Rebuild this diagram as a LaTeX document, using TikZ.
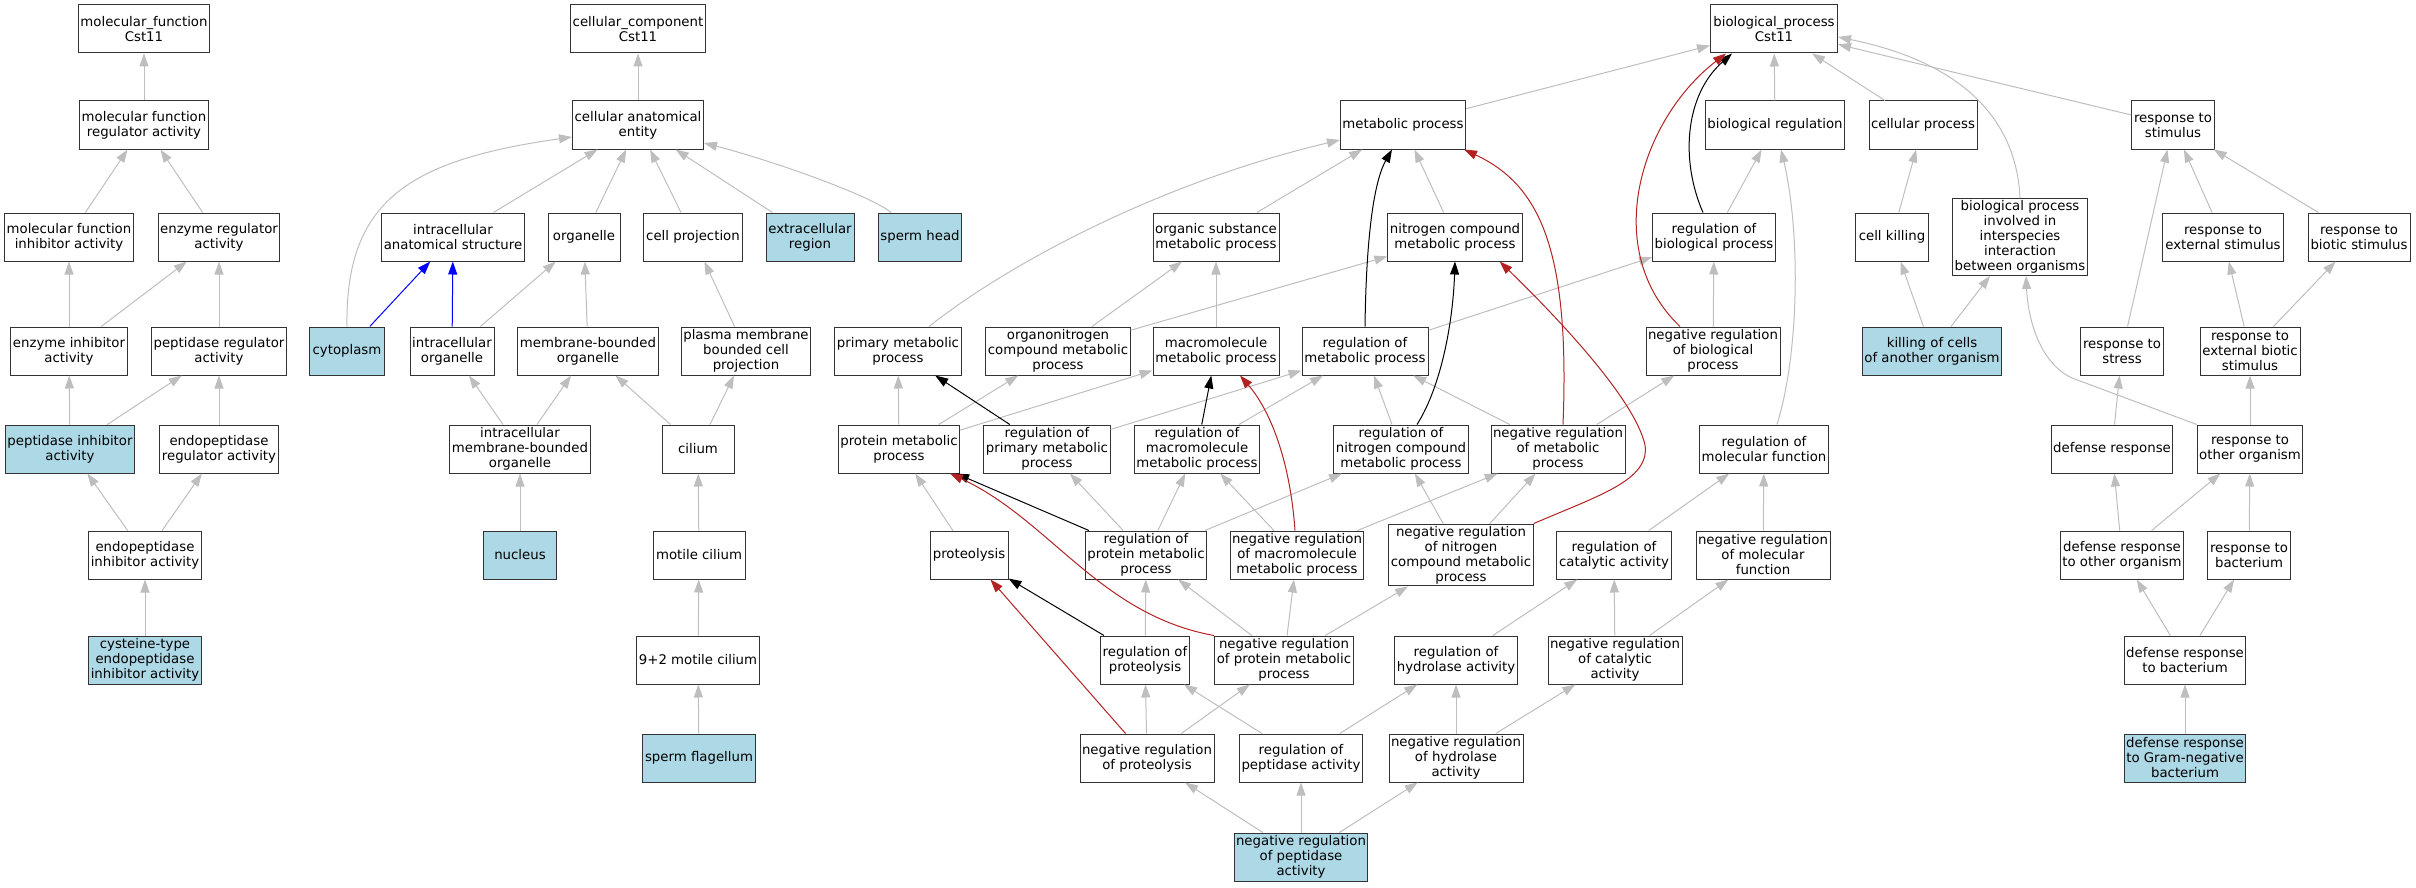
\documentclass[tikz,border=0pt]{standalone}
\usepackage{fontspec}
\setmainfont{DejaVu Sans}
\usetikzlibrary{arrows.meta}
\definecolor{hitblue}{HTML}{ADD8E6}
\definecolor{isagray}{HTML}{BEBEBE}
\definecolor{negred}{HTML}{B22222}
\tikzset{
  term/.style={draw=black!80, line width=1pt, fill=white, align=center, inner xsep=2pt, inner ysep=2pt, minimum height=48pt, font=\fontsize{13.3}{15}\selectfont},
  isa/.style={draw=isagray, line width=1pt, -{Triangle[length=13pt,width=9pt]}},
  regarrow/.style={isa, draw=black},
  negarrow/.style={isa, draw=negred},
  partof/.style={isa, draw=blue}
}
\newcommand{\goterm}[5]{\node[term, minimum width=#4pt] (#1) at (#2,#3) {#5};}
\newcommand{\gohit}[5]{\node[term, fill=hitblue, minimum width=#4pt] (#1) at (#2,#3) {#5};}

\begin{document}
\begin{tikzpicture}[x=1pt,y=-1pt]
        \useasboundingbox (0,0) rectangle (2416,888);
        %molecular function
        \goterm{mf}{144}{29}{131}{molecular\_function\\Cst11}
        \goterm{mfreg}{144}{125}{129}{molecular function\\regulator activity}
        \goterm{mfinh}{69}{237}{129}{molecular function\\inhibitor activity}
        \goterm{enzreg}{219}{237}{121}{enzyme regulator\\activity}
        \goterm{enzinh}{69}{351}{116}{enzyme inhibitor\\activity}
        \goterm{pepreg}{219}{351}{134}{peptidase regulator\\activity}
        \gohit{pepinh}{70}{449}{129}{peptidase inhibitor\\activity}
        \goterm{endoreg}{219}{449}{119}{endopeptidase\\regulator activity}
        \goterm{endoinh}{145}{555}{113}{endopeptidase\\inhibitor activity}
        \gohit{cysinh}{145}{660}{113}{cysteine-type\\endopeptidase\\inhibitor activity}
        %cellular component
        \goterm{cc}{638}{29}{135}{cellular\_component\\Cst11}
        \goterm{cae}{638}{125}{131}{cellular anatomical\\entity}
        \goterm{intraanat}{453}{237}{142}{intracellular\\anatomical structure}
        \goterm{organelle}{584}{237}{72}{organelle}
        \goterm{cellproj}{693}{237}{99}{cell projection}
        \gohit{extracell}{810}{237}{88}{extracellular\\region}
        \gohit{spermhead}{920}{237}{83}{sperm head}
        \gohit{cytoplasm}{347}{351}{75}{cytoplasm}
        \goterm{intraorg}{452}{351}{84}{intracellular\\organelle}
        \goterm{membbound}{588}{351}{140}{membrane-bounded\\organelle}
        \goterm{pmbcp}{746}{351}{129}{plasma membrane\\bounded cell\\projection}
        \goterm{intramemb}{520}{449}{139}{intracellular\\membrane-bounded\\organelle}
        \goterm{cilium}{698}{449}{72}{cilium}
        \gohit{nucleus}{520}{555}{73}{nucleus}
        \goterm{motile}{699}{555}{92}{motile cilium}
        \goterm{ninetwo}{698}{660}{123}{9+2 motile cilium}
        \gohit{spermflag}{699}{758}{113}{sperm flagellum}
        %biological process
        \goterm{bp}{1774}{29}{127}{biological\_process\\Cst11}
        \goterm{metabolic}{1403}{125}{125}{metabolic process}
        \goterm{bioreg}{1775}{125}{139}{biological regulation}
        \goterm{cellproc}{1923}{125}{108}{cellular process}
        \goterm{respstim}{2173}{125}{83}{response to\\stimulus}
        \goterm{orgsub}{1216}{237}{126}{organic substance\\metabolic process}
        \goterm{nitro}{1455}{237}{131}{nitrogen compound\\metabolic process}
        \goterm{regbio}{1714}{237}{123}{regulation of\\biological process}
        \goterm{cellkill}{1892}{237}{73}{cell killing}
        \goterm{bpinter}{2020}{237}{134}{biological process\\involved in\\interspecies\\interaction\\between organisms}
        \goterm{respext}{2223}{237}{121}{response to\\external stimulus}
        \goterm{respbio}{2359}{237}{102}{response to\\biotic stimulus}
        \goterm{primary}{898}{351}{127}{primary metabolic\\process}
        \goterm{orgnitro}{1058}{351}{143}{organonitrogen\\compound metabolic\\process}
        \goterm{macro}{1216}{351}{126}{macromolecule\\metabolic process}
        \goterm{regmet}{1365}{351}{126}{regulation of\\metabolic process}
        \goterm{negregbio}{1713}{351}{134}{negative regulation\\of biological\\process}
        \gohit{killing}{1932}{351}{139}{killing of cells\\of another organism}
        \goterm{respstress}{2122}{351}{83}{response to\\stress}
        \goterm{respextbio}{2250}{351}{100}{response to\\external biotic\\stimulus}
        \goterm{protein}{899}{449}{121}{protein metabolic\\process}
        \goterm{regprimary}{1047}{449}{126}{regulation of\\primary metabolic\\process}
        \goterm{regmacro}{1197}{449}{125}{regulation of\\macromolecule\\metabolic process}
        \goterm{regnitro}{1401}{449}{132}{regulation of\\nitrogen compound\\metabolic process}
        \goterm{negregmet}{1558}{449}{134}{negative regulation\\of metabolic\\process}
        \goterm{regmolfn}{1764}{449}{128}{regulation of\\molecular function}
        \goterm{defresp}{2112}{449}{121}{defense response}
        \goterm{respother}{2250}{449}{105}{response to\\other organism}
        \goterm{proteolysis}{969}{555}{78}{proteolysis}
        \goterm{regprot}{1146}{555}{121}{regulation of\\protein metabolic\\process}
        \goterm{negmacro}{1297}{555}{133}{negative regulation\\of macromolecule\\metabolic process}
        \goterm{negnitro}{1461}{555}{142}{negative regulation\\of nitrogen\\compound metabolic\\process}
        \goterm{regcat}{1614}{555}{115}{regulation of\\catalytic activity}
        \goterm{negmolfn}{1763}{555}{133}{negative regulation\\of molecular\\function}
        \goterm{defother}{2122}{555}{123}{defense response\\to other organism}
        \goterm{respbact}{2249}{555}{83}{response to\\bacterium}
        \goterm{regproteolysis}{1145}{660}{89}{regulation of\\proteolysis}
        \goterm{negprot}{1284}{660}{139}{negative regulation\\of protein metabolic\\process}
        \goterm{reghydro}{1456}{660}{123}{regulation of\\hydrolase activity}
        \goterm{negcat}{1615}{660}{134}{negative regulation\\of catalytic\\activity}
        \goterm{defbact}{2185}{660}{121}{defense response\\to bacterium}
        \goterm{negproteolysis}{1147}{758}{134}{negative regulation\\of proteolysis}
        \goterm{regpep}{1301}{758}{123}{regulation of\\peptidase activity}
        \goterm{neghydro}{1456}{758}{134}{negative regulation\\of hydrolase\\activity}
        \gohit{defgram}{2185}{758}{121}{defense response\\to Gram-negative\\bacterium}
        \gohit{negpep}{1301}{857}{133}{negative regulation\\of peptidase\\activity}

        %is_a edges
        \foreach \src/\dst in {mfreg/mf, mfinh/mfreg, enzreg/mfreg, enzinh/mfinh, enzinh/enzreg, pepreg/enzreg, pepinh/enzinh, pepinh/pepreg, endoreg/pepreg, endoinh/pepinh, endoinh/endoreg, cysinh/endoinh,
            cae/cc, intraanat/cae, organelle/cae, cellproj/cae, extracell/cae, intraorg/organelle, membbound/organelle, intramemb/intraorg, intramemb/membbound, nucleus/intramemb, pmbcp/cellproj, cilium/membbound, cilium/pmbcp, motile/cilium, ninetwo/motile, spermflag/ninetwo,
            metabolic/bp, bioreg/bp, cellproc/bp, respstim/bp, regbio/bioreg, negregbio/regbio, orgsub/metabolic, nitro/metabolic, orgnitro/orgsub, orgnitro/nitro, macro/orgsub, protein/primary, protein/orgnitro, protein/macro,
            regprimary/regmet, regmacro/regmet, regnitro/regmet, negregmet/regmet, regmet/regbio, negregmet/negregbio, negmacro/regmacro, negmacro/negregmet, negnitro/regnitro, negnitro/negregmet,
            regprot/regprimary, regprot/regmacro, regprot/regnitro, proteolysis/protein, regproteolysis/regprot, negprot/regprot, negprot/negmacro, negprot/negnitro, reghydro/regcat, negcat/regcat, negcat/negmolfn, regcat/regmolfn, negmolfn/regmolfn,
            regpep/regproteolysis, regpep/reghydro, neghydro/reghydro, neghydro/negcat, negproteolysis/regproteolysis, negproteolysis/negprot, negpep/negproteolysis, negpep/regpep, negpep/neghydro,
            cellkill/cellproc, killing/cellkill, killing/bpinter, respstress/respstim, respext/respstim, respbio/respstim, respextbio/respext, respextbio/respbio, defresp/respstress, respother/respextbio,
            defother/defresp, defother/respother, respbact/respother, defbact/defother, defbact/respbact, defgram/defbact}
            \draw[isa] (\src) -- (\dst);
        \draw[isa] (cytoplasm.north) .. controls (345,200) and (410,160) .. ([yshift=-12pt]cae.west);
        \draw[isa] ([xshift=-29pt]spermhead.north) .. controls (870,195) and (770,160) .. ([yshift=-18pt]cae.east);
        \draw[isa] ([xshift=31pt]primary.north) .. controls (1000,270) and (1150,185) .. ([yshift=-15pt]metabolic.west);
        \draw[isa] (bpinter.north) .. controls (2017,130) and (1975,65) .. ([yshift=-8pt]bp.east);
        \draw[isa] ([xshift=13pt]regmolfn.north) .. controls (1800,350) and (1800,230) .. ([xshift=6pt]bioreg.south);
        \draw[isa] (respother.north west) -- (2072,378) .. controls (2040,363) and (2028,320) .. ([xshift=6pt]bpinter.south);
        %part_of
        \draw[partof] (cytoplasm) -- (intraanat);
        \draw[partof] (intraorg) -- (intraanat);
        %regulates
        \draw[regarrow] (regprot) -- (protein);
        \draw[regarrow] (regproteolysis) -- (proteolysis);
        \draw[regarrow] (regprimary) -- (primary);
        \draw[regarrow] (regmacro) -- (macro);
        \draw[regarrow] ([xshift=-11pt]regbio.north) .. controls (1680,160) and (1685,95) .. ([xshift=-42pt]bp.south);
        \draw[regarrow] (regmet.north) .. controls (1366,250) and (1372,185) .. ([xshift=-11pt]metabolic.south);
        \draw[regarrow] ([xshift=16pt]regnitro.north) .. controls (1442,385) and (1453,320) .. (nitro.south);
        %negatively regulates
        \draw[negarrow] (negproteolysis) -- (proteolysis);
        \draw[negarrow] ([xshift=-33pt]negregbio.north) .. controls (1600,250) and (1640,120) .. ([xshift=-48pt]bp.south);
        \draw[negarrow] ([xshift=5pt]negregmet.north) .. controls (1570,250) and (1540,185) .. ([xshift=-2pt]metabolic.south east);
        \draw[negarrow] (negnitro.north east) .. controls (1600,495) and (1650,480) .. (1645,445) .. controls (1635,400) and (1560,320) .. ([xshift=-23pt]nitro.south east);
        \draw[negarrow] ([xshift=-2pt]negmacro.north) .. controls (1290,460) and (1270,410) .. ([xshift=24pt]macro.south);
        \draw[negarrow] (negprot.north west) .. controls (1100,615) and (1050,520) .. ([xshift=51pt]protein.south);
\end{tikzpicture}
\end{document}
